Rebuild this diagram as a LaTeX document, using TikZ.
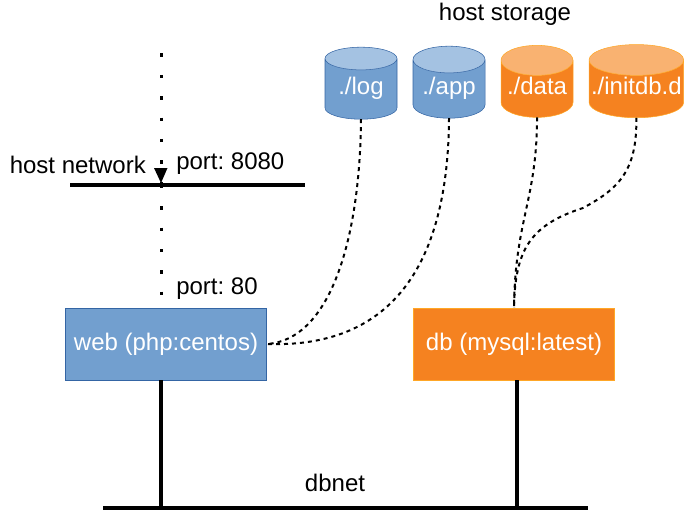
\documentclass[tikz,border=0pt]{standalone}
\usepackage{fontspec}
\setmainfont{Liberation Sans}
\usetikzlibrary{positioning,shapes.geometric,arrows.meta}
\definecolor{blueFill}{HTML}{729FCF}
\definecolor{blueEdge}{HTML}{3465A4}
\definecolor{blueTop}{HTML}{A4C2E2}
\definecolor{orangeFill}{HTML}{F58220}
\definecolor{orangeEdge}{HTML}{FFA726}
\definecolor{orangeTop}{HTML}{F9B271}
\begin{document}
\begin{tikzpicture}[x=0.75pt,y=-0.75pt,node distance=12pt,font=\fontsize{18pt}{20pt}\selectfont\frenchspacing,
	label/.style={text=black,inner sep=0pt},
	box/.style={draw,text=white,minimum width=150.75pt,minimum height=54pt,inner sep=0pt},
	vol/.style={cylinder,shape border rotate=90,cylinder uses custom fill,aspect=0.5,
		text=white,text height=14pt,text depth=6pt,minimum width=54pt,minimum height=54pt,inner sep=0pt,outer sep=0pt},
	bluevol/.style={vol,draw=blueEdge,cylinder body fill=blueFill,cylinder end fill=blueTop},
	orangevol/.style={vol,draw=orangeEdge,cylinder body fill=orangeFill,cylinder end fill=orangeTop},
	net/.style={line width=3pt},
	mount/.style={line width=1.5pt,dash pattern=on 3pt off 3pt},
	expose/.style={line width=2.6pt,dash pattern=on 2.6pt off 13.4pt}]
	\useasboundingbox (0,0) rectangle (685,510);

	% host storage
	\node[bluevol] (log) at (361,89) {./log};
	\node[bluevol] (app) [right=of log] {./app};
	\node[orangevol] (data) [right=of app] {./data};
	\node[orangevol,minimum width=71pt,aspect=0.34] (initdb) [right=of data] {./initdb.d};
	\node[label] (storage) at (505,14) {host storage};

	% containers
	\node[box,draw=blueEdge,fill=blueFill] (web) at (166,344) {web (php:centos)};
	\node[box,draw=orangeEdge,fill=orangeFill] (db) at (514,344) {db (mysql:latest)};

	% networks
	\coordinate (hostl) at (70,185);
	\coordinate (hostr) at (305,185);
	\coordinate (dbnetl) at (103,508);
	\coordinate (dbnetr) at (588,508);
	\coordinate (outside) at (161.5,53.5);
	\coordinate (gate) at (161.5,185);
	\coordinate (webdrop) at (161,508);
	\coordinate (dbdrop) at (516.5,508);
	\draw[net] (hostl) -- (hostr);
	\draw[net] (dbnetl) -- (dbnetr);
	\draw[net] (webdrop |- web.south) -- (webdrop);
	\draw[net] (dbdrop |- db.south) -- (dbdrop);
	\node[label,anchor=west] (hostnet) at (9.5,165) {host network};
	\node[label,anchor=west] (port8080) at (176,164) {port: 8080};
	\node[label,anchor=west] (port80) at (176,289) {port: 80};
	\node[label] (dbnet) at (335,483) {dbnet};

	% port mapping
	\draw[expose] (outside) -- (gate);
	\fill (154,168) -- (167.5,168) -- (161,183) -- cycle;
	\draw[expose,shorten >=9.5pt] (gate) -- (gate |- web.north);

	% mounts
	\draw[mount] (log.south) .. controls (360,240) and (330,340) .. (web.east);
	\draw[mount] (app.south) .. controls (448,280) and (380,348) .. (web.east);
	\draw[mount] (data.south) .. controls (537,200) and (515,220) .. (db.north);
	\draw[mount] (initdb.south) .. controls (637,170) and (620,188) .. (583,208)
		.. controls (530,225) and (515,250) .. (db.north);
\end{tikzpicture}
\end{document}
